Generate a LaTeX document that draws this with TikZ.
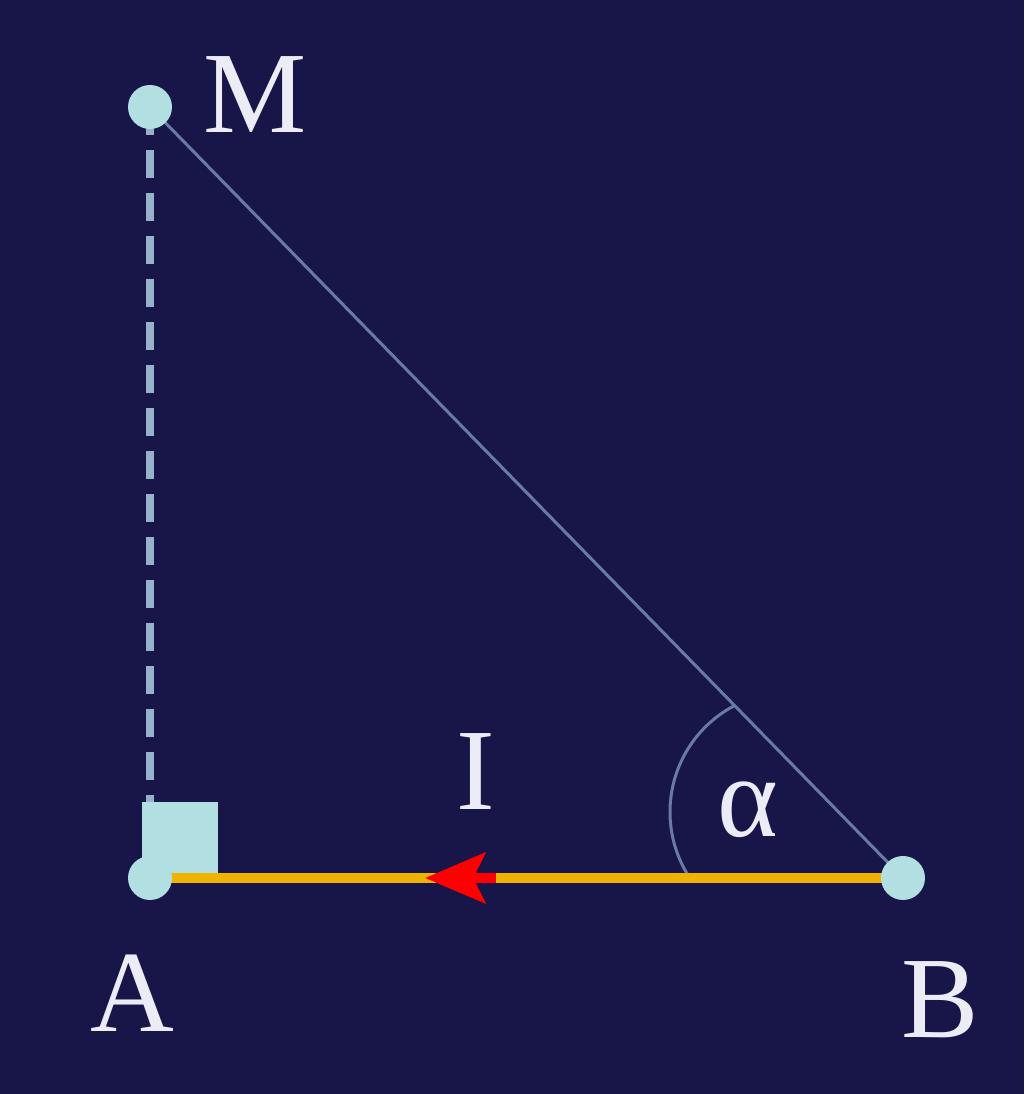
\documentclass[tikz,border=0pt]{standalone}
\usepackage{fontspec}
\setmainfont{Liberation Serif}
\usetikzlibrary{arrows.meta}

\definecolor{bgnavy}{RGB}{24,22,72}
\definecolor{ptcyan}{RGB}{178,224,226}
\definecolor{dashblue}{RGB}{150,178,202}
\definecolor{legblue}{RGB}{104,122,166}
\definecolor{wireorange}{RGB}{240,180,0}
\definecolor{labelwhite}{RGB}{236,236,246}

\tikzset{
  lbl/.style={text=labelwhite, font=\fontsize{33}{36}\selectfont, inner sep=0pt},
  pt/.style={fill=ptcyan},
}

\begin{document}
\begin{tikzpicture}
        \fill[bgnavy] (0,0) rectangle (10.24,10.94);
        \coordinate (A) at (1.50,2.16);
        \coordinate (B) at (9.03,2.16);
        \coordinate (M) at (1.50,9.87);
        \coordinate (arcc) at (7.90,2.82);
        \coordinate (tail) at (4.96,2.16);
        \coordinate (tip) at (4.25,2.16);
        \draw[dashblue, line width=2pt, dash pattern=on 0.28cm off 0.15cm] (M) -- (A);
        % right angle mark
        \fill[ptcyan] (1.42,2.20) rectangle (2.18,2.92);
        \draw[legblue, line width=0.85pt] (M) -- (B);
        \draw[legblue, line width=0.85pt] ([shift={(212:1.2)}]arcc) arc[start angle=212, end angle=118, radius=1.2];
        \draw[wireorange, line width=3.1pt] (A) -- (B);
        \draw[red, line width=3.1pt, -{Stealth[length=0.6cm, width=0.5cm, inset=0.12cm]}] (tail) -- (tip);
        \fill[pt] (A) circle[radius=0.22];
        \fill[pt] (B) circle[radius=0.22];
        \fill[pt] (M) circle[radius=0.22];
        \node[lbl] (Mlbl) at (2.55,9.99) {M};
        \node[lbl] (Albl) at (1.32,1.01) {A};
        \node[lbl] (Blbl) at (9.40,0.94) {B};
        \node[lbl] (Ilbl) at (4.76,3.22) {I};
        \node[lbl] (alph) at (7.48,2.84) {α};
      \end{tikzpicture}
\end{document}
